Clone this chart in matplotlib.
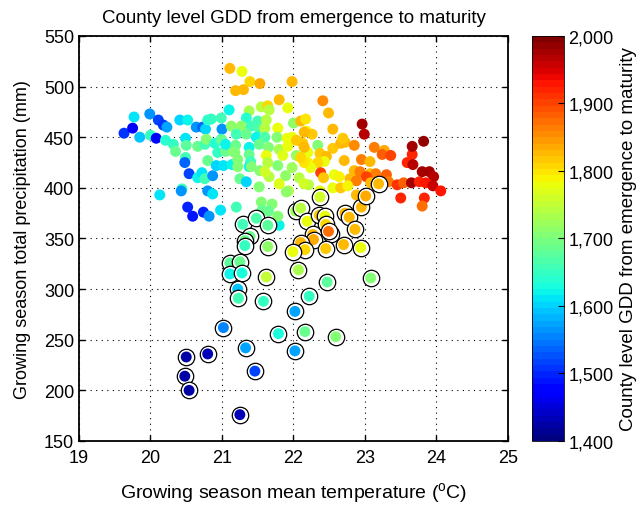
import matplotlib
matplotlib.use('Agg')
import matplotlib.pyplot as plt
import numpy as np
from matplotlib.ticker import FuncFormatter

plt.rcParams['font.family'] = ['Liberation Sans', 'DejaVu Sans']
plt.rcParams['mathtext.default'] = 'regular'

# counties without ringed markers: temperature (C), precipitation (mm), GDD
temp = [19.63, 19.75, 19.77, 19.85, 19.99, 20.00, 20.08, 20.11, 20.18, 20.23,
        20.21, 20.32, 20.35, 20.41, 20.52, 20.49, 20.50, 20.64, 20.73, 20.77,
        20.80, 20.85, 20.99, 21.00, 20.66, 20.76, 20.78, 20.90, 20.99, 21.00,
        20.94, 21.05, 21.16, 20.80, 20.49, 20.48, 20.54, 20.66, 20.72, 20.76,
        20.87, 20.92, 21.02, 21.14, 20.13, 20.44, 20.43, 20.80, 20.87, 20.52,
        20.59, 20.74, 20.82, 20.98, 21.20, 21.10,
        21.11, 21.28, 21.39, 21.53, 21.19, 21.30, 21.98, 21.80, 21.92, 21.38,
        21.55, 21.64, 21.66, 21.34, 21.50, 21.62, 21.13, 21.27, 21.41, 21.52,
        21.60, 21.78, 21.20, 21.34, 21.48, 21.60, 21.77, 21.91, 21.05, 21.19,
        21.38, 21.52, 21.65, 21.80, 21.92, 21.18, 21.38, 21.62, 21.85, 21.22,
        21.40, 21.64, 21.22, 21.38, 21.78, 21.25, 21.34, 21.66, 21.89, 21.52,
        21.80, 21.93, 21.55, 21.70, 21.90, 21.80, 21.78, 21.65, 21.53, 21.60,
        21.41, 21.56,
        22.00, 22.10, 22.17, 22.41, 22.49, 22.55, 22.96, 22.99, 22.18, 22.26,
        21.98, 22.04, 22.13, 22.34, 22.55, 22.66, 22.72, 22.85, 22.69, 23.13,
        23.27, 23.24, 23.36, 22.04, 22.20, 22.37, 22.46, 22.43, 22.20, 22.34,
        22.71, 22.95, 23.07, 21.98, 22.24, 22.38, 22.57, 22.64, 22.85, 22.93,
        23.07, 23.15, 23.30, 22.08, 22.42, 22.79, 22.88, 23.02, 23.33, 23.08,
        22.21, 22.37, 22.55, 22.66, 22.76, 22.88, 22.15, 22.15, 22.15, 22.15,
        22.10, 23.45, 23.54, 23.50, 23.59, 23.66, 23.67, 23.66, 23.82, 23.65,
        23.76, 23.80, 23.90, 23.96, 23.85, 23.95, 24.06, 23.83, 23.80]
precip = [454, 459, 470, 450, 473, 452, 449, 467, 462, 460,
          447, 443, 436, 467, 467, 449, 442, 460, 460, 458,
          467, 468, 469, 458, 441, 443, 448, 444, 448, 447,
          435, 436, 436, 427, 430, 425, 414, 410, 415, 409,
          412, 422, 422, 423, 393, 399, 397, 397, 394, 381,
          372, 376, 372, 378, 381, 477,
          518, 515, 505, 503, 496, 497, 505, 487, 479, 476,
          480, 481, 477, 469, 466, 467, 461, 461, 461, 459,
          459, 459, 453, 453, 450, 450, 450, 449, 443, 442,
          440, 443, 440, 438, 441, 435, 433, 432, 432, 428,
          426, 425, 421, 421, 422, 409, 406, 411, 412, 401,
          404, 397, 386, 384, 396, 363, 372, 377, 417, 416,
          421, 378,
          464, 466, 468, 486, 474, 458, 463, 453, 456, 453,
          450, 447, 444, 442, 439, 444, 445, 442, 449, 440,
          437, 433, 432, 432, 435, 434, 431, 426, 425, 425,
          427, 428, 426, 420, 420, 415, 413, 411, 417, 416,
          414, 414, 413, 410, 410, 409, 407, 411, 406, 405,
          403, 397, 400, 400, 402, 393, 404, 425, 440, 455,
          430, 403, 405, 390, 425, 433, 423, 441, 446, 405,
          406, 416, 416, 411, 405, 402, 397, 390, 382]
gdd = [1510, 1470, 1610, 1590, 1560, 1650, 1480, 1520, 1510, 1570,
       1640, 1650, 1690, 1600, 1620, 1610, 1680, 1560, 1540, 1600,
       1640, 1650, 1660, 1560, 1690, 1660, 1700, 1640, 1660, 1690,
       1650, 1690, 1710, 1690, 1660, 1540, 1520, 1620, 1610, 1660,
       1560, 1600, 1610, 1620, 1610, 1660, 1560, 1560, 1610, 1500,
       1490, 1500, 1560, 1610, 1660, 1620,
       1830, 1780, 1810, 1840, 1830, 1830, 1830, 1830, 1780, 1730,
       1740, 1810, 1740, 1640, 1660, 1740, 1710, 1710, 1660, 1670,
       1740, 1780, 1660, 1690, 1620, 1670, 1700, 1780, 1620, 1690,
       1620, 1690, 1700, 1730, 1780, 1700, 1690, 1780, 1770, 1700,
       1660, 1740, 1700, 1620, 1700, 1690, 1600, 1740, 1710, 1700,
       1770, 1740, 1700, 1700, 1710, 1620, 1700, 1690, 1700, 1760,
       1700, 1690,
       1710, 1830, 1800, 1850, 1830, 1830, 1980, 1970, 1790, 1820,
       1780, 1820, 1820, 1700, 1820, 1830, 1830, 1850, 1820, 1860,
       1840, 1880, 1900, 1720, 1780, 1820, 1830, 1780, 1790, 1810,
       1830, 1860, 1830, 1720, 1780, 1900, 1780, 1790, 1830, 1860,
       1830, 1860, 1880, 1740, 1820, 1830, 1860, 1900, 1860, 1830,
       1740, 1780, 1780, 1820, 1790, 1830, 1760, 1800, 1830, 1830,
       1810, 1910, 1880, 1920, 1920, 1920, 1970, 1980, 1990, 1980,
       1920, 1980, 1980, 1970, 1930, 1960, 1930, 1920, 1870]

# ringed counties
ring_temp = [21.29, 21.39, 21.32, 21.32, 21.48, 21.64, 21.64, 22.03, 22.10, 22.19,
             22.36, 22.44, 22.45, 22.27, 22.28, 22.52, 22.49, 22.72, 22.78, 22.95,
             22.86, 22.70, 22.94, 22.45, 22.10, 22.16, 21.99, 21.11, 21.25, 21.11,
             21.28, 21.62, 22.07, 22.47, 23.08, 21.22, 21.23, 21.58, 22.22, 22.02,
             21.02, 21.79, 22.16, 22.59, 21.33, 22.02, 20.80, 20.50, 20.48, 20.54,
             21.46, 21.25, 22.37, 23.19, 23.01]
ring_precip = [364, 352, 348, 343, 370, 363, 342, 377, 380, 367,
               373, 372, 364, 354, 349, 354, 357, 375, 371, 381,
               359, 344, 341, 340, 346, 339, 337, 326, 327, 315,
               316, 312, 319, 307, 311, 300, 291, 288, 293, 278,
               262, 256, 258, 253, 242, 239, 236, 233, 214, 200,
               219, 176, 391, 404, 392]
ring_gdd = [1660, 1690, 1690, 1650, 1670, 1680, 1710, 1720, 1740, 1780,
            1820, 1780, 1810, 1830, 1840, 1850, 1870, 1830, 1830, 1830,
            1830, 1830, 1780, 1820, 1830, 1810, 1780, 1680, 1690, 1620,
            1630, 1750, 1730, 1680, 1700, 1590, 1660, 1650, 1650, 1570,
            1550, 1630, 1690, 1700, 1570, 1570, 1430, 1420, 1420, 1420,
            1520, 1430, 1760, 1830, 1840]

cmap = plt.get_cmap('jet', 64)
vmin, vmax = 1400, 2000

fig = plt.figure(figsize=(6.41, 5.06), dpi=100)
ax = fig.add_axes([0.1232, 0.1265, 0.6693, 0.8004])
cax = fig.add_axes([0.830, 0.1265, 0.050, 0.8004])

sc = ax.scatter(temp, precip, c=gdd, cmap=cmap, vmin=vmin, vmax=vmax,
                s=62, edgecolors='none', zorder=3)

# each ringed marker: black ring on white, then the coloured dot
for i in range(len(ring_temp)):
    z = 4 + 0.01 * i
    ax.scatter(ring_temp[i], ring_precip[i], s=140, facecolors='white',
               edgecolors='black', linewidths=0.9, zorder=z)
    ax.scatter(ring_temp[i], ring_precip[i], c=[ring_gdd[i]], cmap=cmap,
               vmin=vmin, vmax=vmax, s=62, edgecolors='none', zorder=z + 0.005)

ax.set_xlim(19, 25)
ax.set_ylim(150, 550)
ax.set_xticks(np.arange(19, 26, 1))
ax.set_yticks(np.arange(150, 551, 50))
ax.grid(True, linestyle=(0, (1, 4)), color='black', linewidth=0.8)
ax.set_axisbelow(True)
ax.tick_params(direction='in', top=True, right=True, labelsize=13, length=4, width=1)
ax.tick_params(axis='x', pad=6)
for sp in ax.spines.values():
    sp.set_linewidth(1.3)

ax.set_xlabel('Growing season mean temperature ($^{o}$C)', fontsize=14, labelpad=10)
ax.set_ylabel('Growing season total precipitation (mm)', fontsize=13, labelpad=9)
ax.set_title('County level GDD from emergence to maturity', fontsize=13.5, pad=10)

cb = fig.colorbar(sc, cax=cax, ticks=np.arange(1400, 2001, 100))
cb.ax.yaxis.set_major_formatter(FuncFormatter(lambda v, p: '{:,.0f}'.format(v)))
cb.ax.tick_params(direction='in', labelsize=13, length=4, width=0.8, pad=3)
cb.outline.set_linewidth(0.6)
cb.set_label('County level GDD from emergence to maturity', fontsize=13.5, labelpad=5)

fig.savefig('out.png', dpi=100)
